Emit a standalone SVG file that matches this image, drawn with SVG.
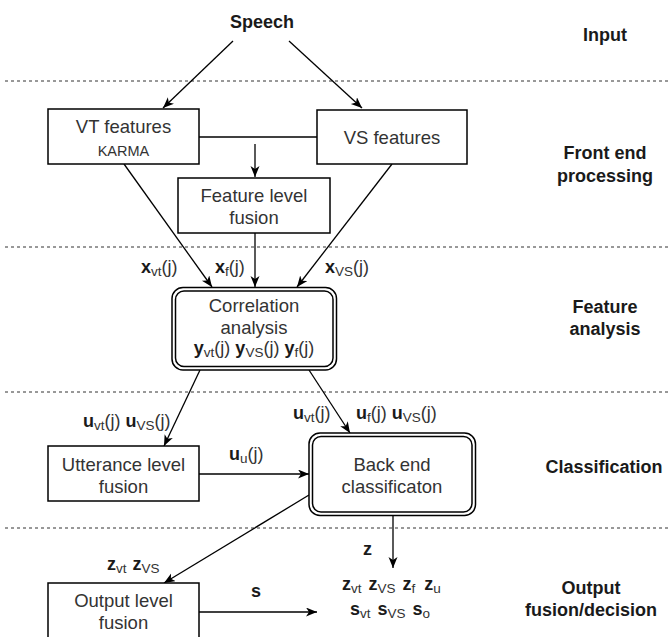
<svg xmlns="http://www.w3.org/2000/svg" width="668" height="637" viewBox="0 0 668 637">
<defs>
<style>
text{font-family:"Liberation Sans",Arial,sans-serif;}
.t{font-size:18.5px;fill:#333;text-anchor:middle;}
.k{font-size:14.5px;fill:#333;text-anchor:middle;}
.h{font-size:18px;font-weight:bold;fill:#1a1a1a;text-anchor:middle;}
.lab{font-size:18px;fill:#333;}
.b{font-weight:bold;fill:#1a1a1a;}
.s{font-size:13.5px;}
.box{fill:#fff;stroke:#000;stroke-width:1.5;}
.rb{fill:#fff;stroke:#000;stroke-width:1.5;}
.e{stroke:#000;stroke-width:1.3;fill:none;}
.d{stroke:#333;stroke-width:1;stroke-dasharray:3 3;fill:none;}
</style>
<marker id="a" markerUnits="userSpaceOnUse" markerWidth="12" markerHeight="10" refX="11" refY="4.5" orient="auto">
<path d="M0,0 L11,4.5 L0,9 L3,4.5 Z" fill="#000"/>
</marker>
</defs>
<rect width="668" height="637" fill="#fff"/>
<g id="separators">
<line class="d" x1="5" y1="81" x2="668" y2="81"/>
<line class="d" x1="5" y1="247" x2="668" y2="247"/>
<line class="d" x1="5" y1="392" x2="668" y2="392"/>
<line class="d" x1="5" y1="528" x2="668" y2="528"/>
</g>
<g id="stage-labels">
<text class="h" x="605" y="41">Input</text>
<text class="h" x="605" y="159">Front end</text>
<text class="h" x="605" y="182">processing</text>
<text class="h" x="605" y="313">Feature</text>
<text class="h" x="605" y="335">analysis</text>
<text class="h" x="604" y="473">Classification</text>
<text class="h" x="591" y="594">Output</text>
<text class="h" x="591" y="616">fusion/decision</text>
</g>
<g id="connectors">
<line class="e" x1="233" y1="41" x2="163" y2="108" marker-end="url(#a)"/>
<line class="e" x1="289" y1="41" x2="362" y2="108" marker-end="url(#a)"/>
<line class="e" x1="199" y1="137" x2="317" y2="137"/>
<line class="e" x1="255" y1="144" x2="255" y2="177" marker-end="url(#a)"/>
<line class="e" x1="124" y1="164" x2="212" y2="287" marker-end="url(#a)"/>
<line class="e" x1="255" y1="233" x2="255" y2="287" marker-end="url(#a)"/>
<line class="e" x1="392" y1="164" x2="297" y2="287" marker-end="url(#a)"/>
<line class="e" x1="200" y1="370" x2="164" y2="446" marker-end="url(#a)"/>
<line class="e" x1="309" y1="370" x2="350" y2="433" marker-end="url(#a)"/>
<line class="e" x1="199" y1="474" x2="309" y2="474" marker-end="url(#a)"/>
<line class="e" x1="309" y1="495" x2="164" y2="583" marker-end="url(#a)"/>
<line class="e" x1="393" y1="516" x2="393" y2="568" marker-end="url(#a)"/>
<line class="e" x1="199" y1="612" x2="317" y2="612" marker-end="url(#a)"/>
</g>
<g id="edge-labels">
<text class="lab" x="141" y="273"><tspan class="b">x</tspan><tspan class="s" dy="3">vt</tspan><tspan dy="-3">(j)</tspan></text>
<text class="lab" x="215" y="273"><tspan class="b">x</tspan><tspan class="s" dy="3">f</tspan><tspan dy="-3">(j)</tspan></text>
<text class="lab" x="325" y="273"><tspan class="b">x</tspan><tspan class="s" dy="3">VS</tspan><tspan dy="-3">(j)</tspan></text>
<text class="lab" x="83" y="427"><tspan class="b">u</tspan><tspan class="s" dy="3">vt</tspan><tspan dy="-3">(j) </tspan><tspan class="b">u</tspan><tspan class="s" dy="3">VS</tspan><tspan dy="-3">(j)</tspan></text>
<text class="lab" x="293" y="419"><tspan class="b">u</tspan><tspan class="s" dy="3">vt</tspan><tspan dy="-3">(j)</tspan></text>
<text class="lab" x="356" y="419"><tspan class="b">u</tspan><tspan class="s" dy="3">f</tspan><tspan dy="-3">(j) </tspan><tspan class="b">u</tspan><tspan class="s" dy="3">VS</tspan><tspan dy="-3">(j)</tspan></text>
<text class="lab" x="229" y="460"><tspan class="b">u</tspan><tspan class="s" dy="3">u</tspan><tspan dy="-3">(j)</tspan></text>
<text class="lab" x="363" y="555"><tspan class="b">z</tspan></text>
<text class="lab" x="107" y="570"><tspan class="b">z</tspan><tspan class="s" dy="3">vt</tspan><tspan class="b" dx="6" dy="-3">z</tspan><tspan class="s" dy="3">VS</tspan></text>
<text class="lab" x="251" y="597"><tspan class="b">s</tspan></text>
<text class="lab" x="342" y="590"><tspan class="b">z</tspan><tspan class="s" dy="3">vt</tspan><tspan class="b" dx="7" dy="-3">z</tspan><tspan class="s" dy="3">VS</tspan><tspan class="b" dx="7" dy="-3">z</tspan><tspan class="s" dy="3">f</tspan><tspan class="b" dx="9" dy="-3">z</tspan><tspan class="s" dy="3">u</tspan></text>
<text class="lab" x="350" y="615"><tspan class="b">s</tspan><tspan class="s" dy="3">vt</tspan><tspan class="b" dx="7" dy="-3">s</tspan><tspan class="s" dy="3">VS</tspan><tspan class="b" dx="7" dy="-3">s</tspan><tspan class="s" dy="3">o</tspan></text>
</g>
<g id="speech"><text class="h" x="262" y="28">Speech</text></g>
<g id="vt-features">
<rect class="box" x="48" y="109" width="151" height="55"/>
<text class="t" x="123.5" y="133">VT features</text>
<text class="k" x="123.5" y="156">KARMA</text>
</g>
<g id="vs-features">
<rect class="box" x="317" y="110" width="150" height="54"/>
<text class="t" x="392" y="144">VS features</text>
</g>
<g id="feature-fusion">
<rect class="box" x="178" y="178" width="152" height="55"/>
<text class="t" x="254" y="202">Feature level</text>
<text class="t" x="254" y="224">fusion</text>
</g>
<g id="correlation">
<rect class="rb" x="172" y="287.5" width="164.5" height="82.5" rx="11"/>
<rect class="rb" x="175.5" y="291" width="157.5" height="75.5" rx="8.5"/>
<text class="t" x="254" y="312">Correlation</text>
<text class="t" x="254" y="334">analysis</text>
<text class="lab" x="254" y="354" text-anchor="middle"><tspan class="b">y</tspan><tspan class="s" dy="3">vt</tspan><tspan dy="-3">(j) </tspan><tspan class="b">y</tspan><tspan class="s" dy="3">VS</tspan><tspan dy="-3">(j) </tspan><tspan class="b">y</tspan><tspan class="s" dy="3">f</tspan><tspan dy="-3">(j)</tspan></text>
</g>
<g id="utterance-fusion">
<rect class="box" x="48" y="446" width="151" height="55"/>
<text class="t" x="123.5" y="471">Utterance level</text>
<text class="t" x="123.5" y="493">fusion</text>
</g>
<g id="back-end">
<rect class="rb" x="309" y="433" width="166.5" height="82.5" rx="11"/>
<rect class="rb" x="312.5" y="436.5" width="159.5" height="75.5" rx="8.5"/>
<text class="t" x="392" y="471">Back end</text>
<text class="t" x="392" y="493">classificaton</text>
</g>
<g id="output-fusion">
<rect class="box" x="48" y="583" width="151" height="70"/>
<text class="t" x="123.5" y="607">Output level</text>
<text class="t" x="123.5" y="629">fusion</text>
</g>
</svg>
